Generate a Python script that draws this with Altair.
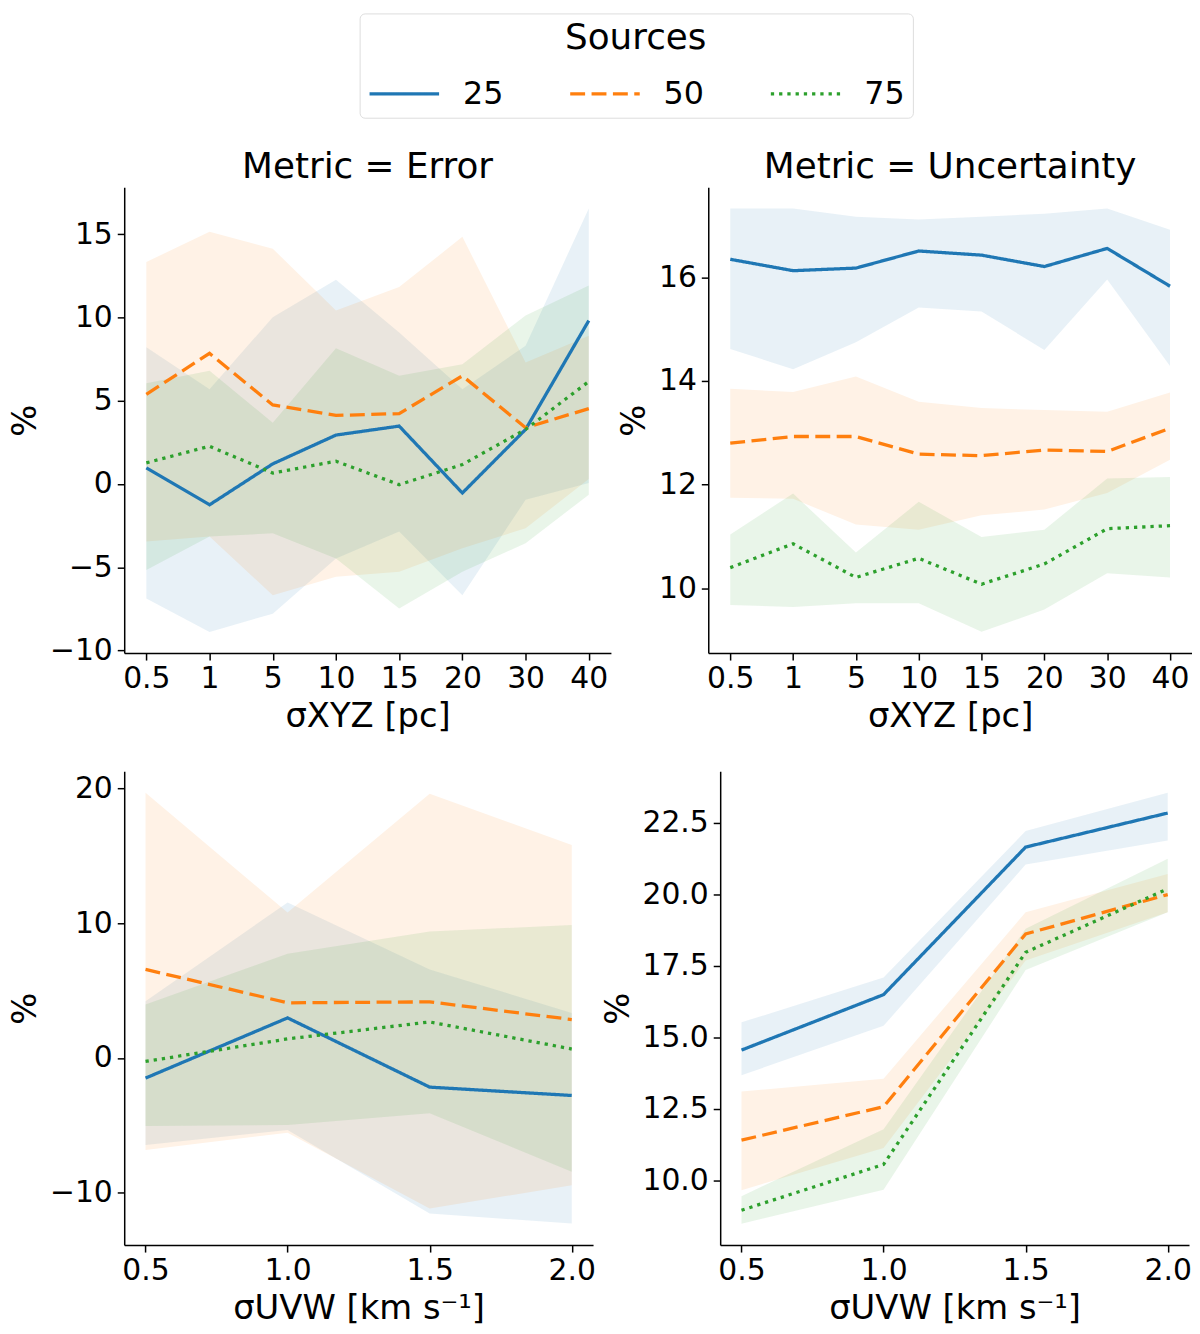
import json
import altair as alt
import pandas as pd

series = ["25", "50", "75"]
colors = ["#1f77b4", "#ff7f0e", "#2ca02c"]
dashes = [[1, 0], [15, 6.5], [3.3, 5]]

xyz_labels = ["0.5", "1", "5", "10", "15", "20", "30", "40"]
uvw_values = [0.5, 1.0, 1.5, 2.0]

# Metric = Error, sigma XYZ
err_xyz_mean = {"25": [0.97, -1.25, 1.21, 2.94, 3.48, -0.54, 3.28, 9.82],
                "50": [5.39, 7.85, 4.75, 4.12, 4.23, 6.50, 3.38, 4.53],
                "75": [1.27, 2.27, 0.66, 1.37, -0.04, 1.17, 3.28, 6.16]}
err_xyz_lo = {"25": [-6.88, -8.89, -7.79, -4.47, -2.86, -6.68, -0.95, 0.06],
              "50": [-3.46, -3.16, -6.68, -5.57, -5.27, -3.86, -2.66, 0.3],
              "75": [-5.17, -3.16, -2.96, -4.47, -7.48, -5.27, -3.56, -0.64]}
err_xyz_hi = {"25": [8.21, 5.69, 10.02, 12.27, 9.11, 5.69, 8.31, 16.56],
              "50": [13.34, 15.15, 14.14, 10.42, 11.83, 14.85, 7.30, 8.91],
              "75": [6.06, 6.80, 3.68, 8.15, 6.50, 7.20, 10.12, 11.93]}

# Metric = Uncertainty, sigma XYZ
unc_xyz_mean = {"25": [16.35, 16.13, 16.18, 16.51, 16.43, 16.21, 16.56, 15.83],
                "50": [12.80, 12.93, 12.93, 12.59, 12.56, 12.67, 12.64, 13.09],
                "75": [10.40, 10.86, 10.21, 10.58, 10.08, 10.47, 11.15, 11.21]}
unc_xyz_lo = {"25": [14.62, 14.23, 14.75, 15.42, 15.34, 14.60, 15.96, 14.29],
              "50": [11.75, 11.73, 11.23, 11.13, 11.41, 11.52, 11.84, 12.48],
              "75": [9.68, 9.64, 9.71, 9.71, 9.16, 9.59, 10.29, 10.21]}
unc_xyz_hi = {"25": [17.33, 17.33, 17.17, 17.12, 17.17, 17.23, 17.33, 16.92],
              "50": [13.85, 13.79, 14.09, 13.60, 13.48, 13.44, 13.41, 13.78],
              "75": [11.04, 11.83, 10.69, 11.67, 10.99, 11.13, 12.12, 12.15]}

# Metric = Error, sigma UVW
err_uvw_mean = {"25": [-1.49, 2.98, -2.16, -2.78],
                "50": [6.58, 4.10, 4.17, 2.86],
                "75": [-0.25, 1.42, 2.68, 0.67]}
err_uvw_lo = {"25": [-6.46, -5.34, -11.55, -12.29],
              "50": [-6.83, -5.54, -11.17, -9.44],
              "75": [-5.04, -4.97, -4.10, -8.44]}
err_uvw_hi = {"25": [4.22, 11.55, 6.58, 3.35],
              "50": [19.69, 10.80, 19.62, 15.82],
              "75": [3.97, 7.75, 9.39, 9.88]}

# Metric = Uncertainty, sigma UVW
unc_uvw_mean = {"25": [14.56, 16.50, 21.66, 22.85],
                "50": [11.41, 12.58, 18.62, 20.00],
                "75": [8.96, 10.56, 17.98, 20.20]}
unc_uvw_lo = {"25": [13.68, 15.41, 21.05, 21.89],
              "50": [9.66, 11.14, 17.69, 19.38],
              "75": [8.49, 9.68, 17.36, 19.38]}
unc_uvw_hi = {"25": [15.53, 17.10, 22.22, 23.56],
              "50": [13.11, 13.56, 19.38, 20.72],
              "75": [9.45, 11.79, 18.80, 21.25]}

FONT = "DejaVu Sans"
TICK_FS = 30
TITLE_FS = 34


def make_df(xs, mean, lo, hi):
    rows = []
    for s in series:
        for i, x in enumerate(xs):
            rows.append({"x": x, "series": s, "mean": mean[s][i], "lo": lo[s][i], "hi": hi[s][i]})
    return pd.DataFrame(rows)


legend = alt.Legend(
    title="Sources", orient="none", legendX=237, legendY=-175, direction="horizontal",
    symbolType="stroke", symbolSize=4900, symbolStrokeWidth=3.3, symbolOpacity=1,
    labelFontSize=32, labelFont=FONT, titleFontSize=36, titleFont=FONT,
    titleFontWeight="normal", titleAnchor="middle",
    titlePadding=0, labelOffset=22, columnPadding=60, padding=8,
    strokeColor="#dddddd", cornerRadius=5, labelColor="black", titleColor="black",
)


def panel(df, xenc_kwargs, ydomain, yvalues, yformat, width, height, title=None, xtitle=""):
    xq = alt.X("x:Q", title=xtitle, **xenc_kwargs)
    yscale = alt.Scale(domain=ydomain, nice=False, zero=False)
    yaxis = alt.Axis(values=yvalues, format=yformat, title="%")
    base = alt.Chart(df)
    band = base.mark_area(opacity=0.1).encode(
        x=xq,
        y=alt.Y("lo:Q", scale=yscale, axis=yaxis),
        y2="hi:Q",
        fill=alt.Fill("series:N", scale=alt.Scale(range=colors), legend=None),
    )
    line = base.mark_line(strokeWidth=3.3).encode(
        x=xq,
        y=alt.Y("mean:Q", scale=yscale, axis=yaxis),
        color=alt.Color("series:N", scale=alt.Scale(domain=series, range=colors), legend=legend),
        strokeDash=alt.StrokeDash("series:N", scale=alt.Scale(domain=series, range=dashes),
                                  legend=legend),
    )
    props = dict(width=width, height=height)
    if title is not None:
        props["title"] = alt.TitleParams(title, fontSize=36, font=FONT, fontWeight="normal",
                                         color="black", offset=1)
    return alt.layer(band, line).properties(**props)


idx = list(range(len(xyz_labels)))
label_expr = json.dumps(xyz_labels) + "[datum.value]"
xyz_kwargs = dict(
    scale=alt.Scale(domain=[-0.35, len(xyz_labels) - 1 + 0.35], nice=False, zero=False),
    axis=alt.Axis(values=idx, labelExpr=label_expr),
)
uvw_kwargs = dict(
    scale=alt.Scale(domain=[0.425, 2.075], nice=False, zero=False),
    axis=alt.Axis(values=uvw_values, format=".1f"),
)

p1 = panel(make_df(idx, err_xyz_mean, err_xyz_lo, err_xyz_hi), xyz_kwargs,
           [-10.16, 17.83], [-10, -5, 0, 5, 10, 15], "d", 490, 469,
           title="Metric = Error", xtitle="σXYZ [pc]")
p2 = panel(make_df(idx, unc_xyz_mean, unc_xyz_lo, unc_xyz_hi), xyz_kwargs,
           [8.75, 17.74], [10, 12, 14, 16], "d", 487, 469,
           title="Metric = Uncertainty", xtitle="σXYZ [pc]")
p3 = panel(make_df(uvw_values, err_uvw_mean, err_uvw_lo, err_uvw_hi), uvw_kwargs,
           [-13.89, 21.29], [-10, 0, 10, 20], "d", 472, 477,
           xtitle="σUVW [km s⁻¹]")
p4 = panel(make_df(uvw_values, unc_uvw_mean, unc_uvw_lo, unc_uvw_hi), uvw_kwargs,
           [7.74, 24.31], [10, 12.5, 15, 17.5, 20, 22.5], ".1f", 472, 477,
           xtitle="σUVW [km s⁻¹]")

top = alt.hconcat(p1, p2, spacing=6)
bottom = alt.hconcat(p3, p4, spacing=5)

chart = alt.vconcat(top, bottom, spacing=38).properties(
    padding={"left": 0, "top": 0, "right": 0, "bottom": 0}
).configure(font=FONT).configure_view(stroke=None).configure_axis(
    grid=False, domainColor="black", domainWidth=1.5, tickColor="black", tickWidth=1.5,
    tickSize=7, labelColor="black", titleColor="black", labelFontSize=TICK_FS,
    titleFontSize=TITLE_FS, titleFontWeight="normal", labelFont=FONT, titleFont=FONT,
    labelPadding=4, titlePadding=6,
).configure_axisY(labelPadding=5, titlePadding=7)

chart.save("out.html", embed_options={"renderer": "svg", "actions": False})
